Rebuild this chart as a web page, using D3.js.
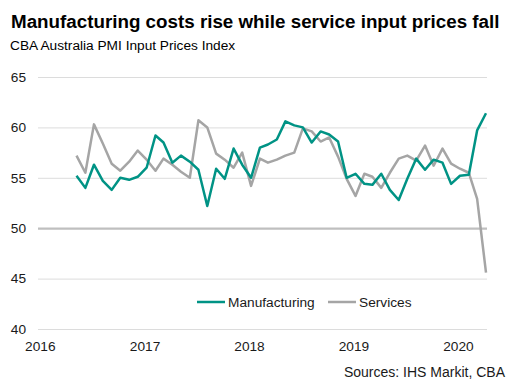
<!DOCTYPE html>
<html>
<head>
<meta charset="utf-8">
<script src="https://cdn.jsdelivr.net/npm/d3@7"></script>
<style>
  body { margin: 0; background: #fff; }
  svg { display: block; font-family: 'Liberation Sans', Arial, sans-serif; }
</style>
</head>
<body>
<div class="canvas"></div>
<script>
// data: monthly, May 2016 - Apr 2020
const startMonth = '2016-05';
const manufacturing = [
  55.2, 54.0, 56.3, 54.7, 53.8, 55.0, 54.8, 55.1, 56.0, 59.2, 58.5, 56.5,
  57.2, 56.6, 55.8, 52.2, 55.9, 54.9, 57.9, 56.3, 55.0, 58.0, 58.3, 58.8,
  60.6, 60.2, 60.0, 58.5, 59.6, 59.3, 58.6, 55.0, 55.4, 54.4, 54.3, 55.4,
  53.8, 52.8, 54.9, 56.9, 55.8, 56.8, 56.5, 54.4, 55.2, 55.3, 59.7, 61.4
];
const services = [
  57.2, 55.5, 60.3, 58.4, 56.4, 55.7, 56.6, 57.7, 56.8, 55.7, 56.9, 56.3,
  55.6, 55.0, 60.7, 60.0, 57.4, 56.8, 56.0, 57.5, 54.2, 56.9, 56.5, 56.8,
  57.2, 57.5, 59.9, 59.6, 58.6, 59.0, 57.1, 54.9, 53.2, 55.4, 55.1, 54.0,
  55.5, 56.9, 57.2, 56.7, 58.2, 56.2, 57.9, 56.4, 55.9, 55.5, 52.9, 45.6
];
const yTicks = [40, 45, 50, 55, 60, 65];
const yearTicks = ['2016', '2017', '2018', '2019', '2020'];
const seriesNames = ['Manufacturing', 'Services'];

const width = 527;
const height = 388;
const margin = { top: 77, right: 40, bottom: 59, left: 38 };
const graphWidth = width - margin.left - margin.right;
const graphHeight = height - margin.top - margin.bottom;

const colors = ['#009385', '#a5a5a5'];

const parseMonth = d3.timeParse('%Y-%m');
const parseYear = d3.timeParse('%Y');
const start = parseMonth(startMonth);
const dates = manufacturing.map((d, i) => d3.timeMonth.offset(start, i));

const svg = d3
  .select('.canvas')
  .append('svg')
  .attr('width', width)
  .attr('height', height);

// titles
svg
  .append('text')
  .attr('x', 11)
  .attr('y', 28)
  .attr('font-size', 18.8)
  .attr('font-weight', 'bold')
  .attr('fill', '#000')
  .text('Manufacturing costs rise while service input prices fall');

svg
  .append('text')
  .attr('x', 10)
  .attr('y', 50)
  .attr('font-size', 13.7)
  .attr('fill', '#000')
  .text('CBA Australia PMI Input Prices Index');

const graph = svg
  .append('g')
  .attr('transform', `translate(${margin.left}, ${margin.top})`);

// scales
const x = d3
  .scaleTime()
  .domain([dates[0], dates[dates.length - 1]])
  .range([38.5, 448]);
const y = d3.scaleLinear().domain([40, 65]).range([graphHeight, 0]);

// y axis + gridlines
const yAxis = d3
  .axisLeft(y)
  .tickValues(yTicks)
  .tickSize(-graphWidth)
  .tickPadding(12)
  .tickFormat(d3.format('d'));

const yAxisGroup = graph.append('g').attr('class', 'y-axis').call(yAxis);
yAxisGroup.select('.domain').remove();
yAxisGroup
  .selectAll('line')
  .attr('stroke', d => (d === 50 ? '#bfbfbf' : '#dcdcdc'))
  .attr('stroke-width', d => (d === 50 ? 2.2 : 1));
yAxisGroup
  .selectAll('text')
  .attr('font-size', 13.7)
  .attr('font-family', "'Liberation Sans', Arial, sans-serif")
  .attr('fill', '#1a1a1a');

// x axis (year labels, 2016 sits left of the first data point)
const xAxis = d3
  .axisBottom(x)
  .tickValues(yearTicks.map(parseYear))
  .tickSize(0)
  .tickPadding(12)
  .tickFormat(d3.timeFormat('%Y'));

const xAxisGroup = graph
  .append('g')
  .attr('class', 'x-axis')
  .attr('transform', `translate(0, ${graphHeight})`)
  .call(xAxis);
xAxisGroup.select('.domain').remove();
xAxisGroup
  .selectAll('text')
  .attr('dx', '-0.15em')
  .attr('font-size', 13.7)
  .attr('font-family', "'Liberation Sans', Arial, sans-serif")
  .attr('fill', '#1a1a1a');

// lines
const line = d3
  .line()
  .x((d, i) => x(dates[i]))
  .y(d => y(d));

// services drawn first, manufacturing on top
graph
  .append('path')
  .datum(services)
  .attr('fill', 'none')
  .attr('stroke', colors[1])
  .attr('stroke-width', 2.5)
  .attr('stroke-linejoin', 'round')
  .attr('d', line);

graph
  .append('path')
  .datum(manufacturing)
  .attr('fill', 'none')
  .attr('stroke', colors[0])
  .attr('stroke-width', 2.5)
  .attr('stroke-linejoin', 'round')
  .attr('d', line);

// legend
const legendItems = [
  { name: seriesNames[0], color: colors[0], x: 197 },
  { name: seriesNames[1], color: colors[1], x: 328 }
];
const legend = svg.append('g').attr('class', 'legend');
legendItems.forEach(item => {
  legend
    .append('line')
    .attr('x1', item.x)
    .attr('x2', item.x + 28)
    .attr('y1', 302)
    .attr('y2', 302)
    .attr('stroke', item.color)
    .attr('stroke-width', 2.5);
  legend
    .append('text')
    .attr('x', item.x + 31)
    .attr('y', 307)
    .attr('font-size', 13.7)
    .attr('fill', '#1a1a1a')
    .text(item.name);
});

// source
svg
  .append('text')
  .attr('x', 505)
  .attr('y', 377)
  .attr('text-anchor', 'end')
  .attr('font-size', 14)
  .attr('fill', '#1a1a1a')
  .text('Sources: IHS Markit, CBA');
</script>
</body>
</html>
